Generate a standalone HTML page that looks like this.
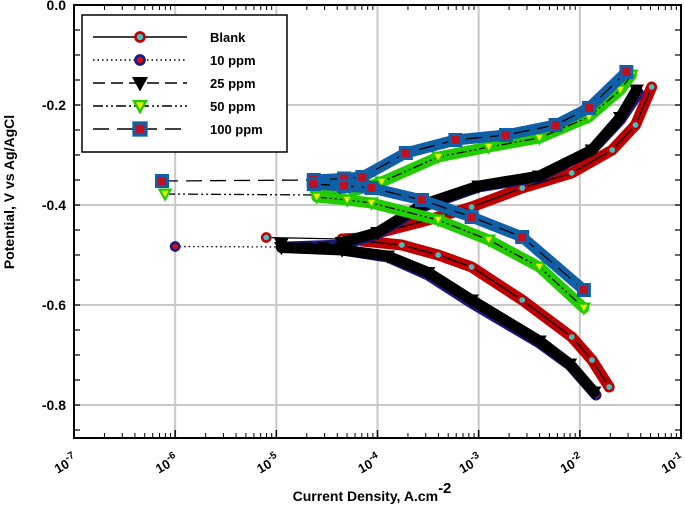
<!DOCTYPE html>
<html><head><meta charset="utf-8"><style>
body{margin:0;background:#fff;}
svg{display:block;font-family:"Liberation Sans",Arial,sans-serif;}
</style></head><body>
<svg id="chart" width="685" height="508" xmlns="http://www.w3.org/2000/svg">
<g id="grid"></g>
<g id="series"></g>
<g id="axes"></g>
<g id="legend"></g>
<text x="14" y="192" transform="rotate(-90 14 192)" text-anchor="middle" font-size="14" font-weight="bold">Potential, V vs Ag/AgCl</text>
<text x="372" y="501" text-anchor="middle" font-size="14" font-weight="bold">Current Density, A.cm<tspan dy="-8" font-size="15">-2</tspan></text>
</svg>
<script>
const xTicks=[-7,-6,-5,-4,-3,-2,-1];
const yTicks=[0,-0.2,-0.4,-0.6,-0.8];
const seriesNames=["Blank","10 ppm","25 ppm","50 ppm","100 ppm"];
const blankAnoI=[-5.1,-4.35,-4.15,-3.96,-3.5,-3.07,-2.57,-2.08,-1.68,-1.45,-1.29];
const blankAnoE=[-0.465,-0.468,-0.466,-0.454,-0.43,-0.404,-0.366,-0.336,-0.29,-0.24,-0.164];
const blankCatI=[-4.15,-3.76,-3.4,-3.07,-2.57,-2.08,-1.88,-1.71];
const blankCatE=[-0.472,-0.48,-0.5,-0.524,-0.59,-0.664,-0.71,-0.764];
const p10AnoI=[-6,-4.9,-4.35,-4.0,-3.56,-3.0,-2.4,-1.88,-1.6,-1.42];
const p10AnoE=[-0.483,-0.484,-0.48,-0.458,-0.404,-0.364,-0.344,-0.29,-0.23,-0.176];
const p10CatI=[-4.35,-3.9,-3.5,-3.07,-2.4,-2.1,-1.84];
const p10CatE=[-0.49,-0.504,-0.54,-0.596,-0.676,-0.72,-0.78];
const p25AnoI=[-4.95,-4.35,-4.0,-3.56,-3.0,-2.4,-1.88,-1.6,-1.44];
const p25AnoE=[-0.477,-0.475,-0.455,-0.40,-0.362,-0.342,-0.29,-0.225,-0.17];
const p25CatI=[-4.95,-4.35,-3.9,-3.5,-3.07,-2.4,-2.1,-1.86];
const p25CatE=[-0.485,-0.49,-0.502,-0.535,-0.59,-0.672,-0.718,-0.774];
const p50AnoI=[-6.1,-4.6,-4.3,-3.96,-3.4,-2.9,-2.4,-1.91,-1.6,-1.49];
const p50AnoE=[-0.378,-0.38,-0.376,-0.354,-0.304,-0.284,-0.266,-0.224,-0.17,-0.14];
const p50CatI=[-4.6,-4.3,-4.06,-3.4,-2.9,-2.4,-1.96];
const p50CatE=[-0.384,-0.39,-0.396,-0.43,-0.47,-0.524,-0.606];
const p100AnoI=[-6.13,-4.63,-4.33,-4.15,-3.72,-3.23,-2.73,-2.24,-1.91,-1.54];
const p100AnoE=[-0.352,-0.35,-0.347,-0.344,-0.296,-0.27,-0.26,-0.24,-0.206,-0.134];
const p100CatI=[-4.63,-4.33,-4.06,-3.56,-3.07,-2.57,-1.96];
const p100CatE=[-0.358,-0.362,-0.366,-0.39,-0.424,-0.464,-0.57];

const NS="http://www.w3.org/2000/svg";
const L=74,R=681,T=5,B=438;
const xS=v=>L+(v+7)*(R-L)/6;
const yS=v=>T-(v)*500;
function mk(tag,attrs,parent){const e=document.createElementNS(NS,tag);for(const k in attrs)e.setAttribute(k,attrs[k]);parent.appendChild(e);return e;}
const grid=document.getElementById('grid'),axes=document.getElementById('axes'),ser=document.getElementById('series'),leg=document.getElementById('legend');
xTicks.forEach(t=>{const l=mk('line',{x1:xS(t),x2:xS(t),y1:T,y2:B,stroke:'#c8c8c8','stroke-width':2},grid);


const tx=mk('text',{x:xS(t)+4,y:B+24,'text-anchor':'end','font-size':13,'font-weight':'bold',transform:`rotate(-30 ${xS(t)+4} ${B+24})`},axes);


tx.innerHTML='10<tspan dy="-6" font-size="10">'+t+'</tspan>';
if(t<-1)for(let m=2;m<10;m++){const x=xS(t+Math.log10(m));mk('line',{x1:x,x2:x,y1:B,y2:B-5,stroke:'#000','stroke-width':1},axes);mk('line',{x1:x,x2:x,y1:T,y2:T+5,stroke:'#000','stroke-width':1},axes);}
mk('line',{x1:xS(t),x2:xS(t),y1:B,y2:B-8,stroke:'#000','stroke-width':1.5},axes);
});
yTicks.forEach(t=>{const l=mk('line',{x1:L,x2:R,y1:yS(t),y2:yS(t),stroke:'#c8c8c8','stroke-width':2},grid);


const tx=mk('text',{x:L-8,y:yS(t)+5,'text-anchor':'end','font-size':14,'font-weight':'bold'},axes);


tx.textContent=t.toFixed(1);
});
for(let k=0;k<18;k++){const y=yS(-k*0.05);if(y>B)break;mk('line',{x1:L,x2:L+6,y1:y,y2:y,stroke:'#000','stroke-width':1.2},axes);mk('line',{x1:R,x2:R-6,y1:y,y2:y,stroke:'#000','stroke-width':1.2},axes);}
mk('rect',{x:L,y:T,width:R-L,height:B-T,fill:'none',stroke:'#000','stroke-width':2},axes);

const styles=[
 {edge:'#c00000',fill:'#40c0c0',shape:'circle',dash:'',band:'#c00000'},
 {edge:'#1a1a80',fill:'#d01020',shape:'circle',dash:'1.5 3',band:'#1a1a80'},
 {edge:'#000',fill:'#000',shape:'tridown',dash:'12 6',band:'#000'},
 {edge:'#22cc00',fill:'#e8f000',shape:'tridown',dash:'10 3 2 3 2 3',band:'#22cc00'},
 {edge:'#1060a8',fill:'#c01020',shape:'square',dash:'16 8',band:'#1060a8'}];
const data=[[blankAnoI,blankAnoE,blankCatI,blankCatE],[p10AnoI,p10AnoE,p10CatI,p10CatE],[p25AnoI,p25AnoE,p25CatI,p25CatE],[p50AnoI,p50AnoE,p50CatI,p50CatE],[p100AnoI,p100AnoE,p100CatI,p100CatE]];
function marker(s,x,y,g,sz){
 if(s.shape==='circle')return mk('circle',{cx:x,cy:y,r:sz*0.75,fill:s.fill,stroke:s.edge,'stroke-width':sz*0.45},g);
 if(s.shape==='square')return mk('rect',{x:x-sz,y:y-sz,width:2*sz,height:2*sz,fill:s.fill,stroke:s.edge,'stroke-width':sz*0.55},g);
 return mk('polygon',{points:`${x-sz},${y-sz*0.8} ${x+sz},${y-sz*0.8} ${x},${y+sz}`,fill:s.fill,stroke:s.edge,'stroke-width':sz*0.4},g);}
data.forEach((d,i)=>{const s=styles[i];const g=mk('g',{},ser);


[[d[0],d[1]],[d[2],d[3]]].forEach(([I,E],b)=>{
 const pts=I.map((v,j)=>xS(v)+','+yS(E[j]));
 const startIdx=b===0?1:0;
 const bandPts=pts.slice(startIdx).join(' ');
 const band=mk('polyline',{points:bandPts,fill:'none',stroke:s.band,'stroke-width':11,'stroke-linejoin':'round','stroke-linecap':'round'},g);
 
 
 mk('polyline',{points:pts.join(' '),fill:'none',stroke:'#000','stroke-width':1.3,'stroke-dasharray':s.dash},g);
 I.forEach((v,j)=>{const m=marker(s,xS(v),yS(E[j]),g,5.5);
 
 });
});});
const lb=mk('rect',{x:82,y:15,width:205,height:137,fill:'#fff',stroke:'#000','stroke-width':1.5},leg);


seriesNames.forEach((n,i)=>{const y=37+i*23;const s=styles[i];
const g=mk('g',{},leg);


mk('line',{x1:93,x2:187,y1:y,y2:y,stroke:'#000','stroke-width':1.5,'stroke-dasharray':s.dash},g);
marker(s,140,y,g,6);
const t=mk('text',{x:210,y:y+5,'font-size':13,'font-weight':'bold'},g);t.textContent=n;});
</script>
</body></html>
